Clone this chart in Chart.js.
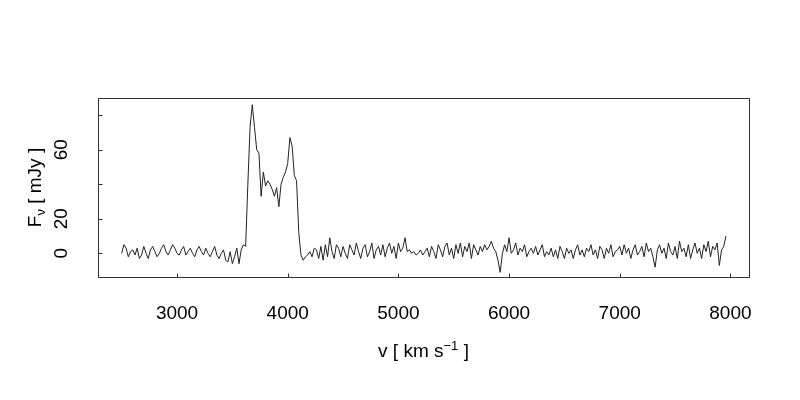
<!DOCTYPE html>
<html>
<head>
<meta charset="utf-8">
<script src="https://cdn.jsdelivr.net/npm/chart.js@4"></script>
<style>
  body { margin: 0; background: #fff; }
  #wrap { width: 800px; height: 400px; }
</style>
</head>
<body>
<div id="wrap"><canvas id="specChart" width="800" height="400"></canvas></div>
<script>
// channel grid of the spectrum (km/s)
var velStart = 2500;
var velStep = 20;

// flux density in mJy, one value per channel
var fluxBaseLow = [0, 5, 3, -2, 1, 2, -1, 3, -3, -1, 4, 0, -3, 2, 4, 1, -2, 0, 3, 5,
    1, -1, 2, 5, 3, 0, -1, 2, 4, -1, 1, 3, 0, -2, 2, 4, 1, -1, 3, 0,
    -2, 1, 4, -1, -3, 0, 2, -4, -5, 1, -6, -2, 3, -6, 2, 5];               // 2500 - 3600
var fluxLine = [4, 40, 73, 86, 73, 60, 58, 33, 47, 39, 42, 40, 37, 33, 38, 27, 40, 44,
    47, 52, 67, 62, 45, 42, 12, -1, -4, -2];                                // 3620 - 4160
var fluxBaseMid = [-1, 1, -2, 3, 2, -3, 4, -4, 5, -2, 9, 1, -3, 5, 3, -2, 4, 0, -3, 5,
    2, -1, 6, 1, -3, 3, 5, -2, 1, 6, -3, 2, 4, -1, 5, -2, 3, 6, 0, 4,
    -3, 6, 1, 3, 9, 1, 2, 0, 1, -1, 0, 2, -1, 1, 3, -2, 4, 1, -3, 5,
    2, -2, 4, 6, -1, 3, -3, 5, 0, 6, -2, 4, 1, 6, -3, 5, 2, -1, 4, 1,
    5, 2, 4, 7, 3, 1, -4, -11, 0, 5, 1];                                    // 4180 - 5980
var fluxBaseHigh = [9, 0, 2, 6, -1, 3, 1, 5, -2, 1, 3, 0, 4, -1, 2, 5, -2, 1, -1, 3,
    -2, 2, -3, 4, 1, -3, 3, 0, 2, -3, 2, 5, -1, 2, -2, 3, 1, 5, -1, 2,
    -3, 4, 2, -3, 3, 0, 5, -2, 1, 2, 4, -1, 5, 0, 3, -3, 2, 5, -1, 1,
    4, -2, 6, 1, 3, -2, -8, 2, 5, 0, 3, -3, 6, 1, -1, 4, -3, 7, 1, 3,
    -2, 5, -3, 2, 6, 0, 3, -3, 5, 1, 7, -2, 4, 2, 6, -7, 2, 4, 10];        // 6000 - 7960

var xTicks = [3000, 4000, 5000, 6000, 7000, 8000];
var yTicks = [0, 20, 40, 60, 80];
var yTickLabels = ['0', '20', '', '60', ''];

var fontFamily = '"Liberation Sans", Arial, Helvetica, sans-serif';

var flux = fluxBaseLow.concat(fluxLine, fluxBaseMid, fluxBaseHigh);
var points = flux.map(function (f, i) {
    return { x: velStart + i * velStep, y: f };
});

// R style box, inward ticks and axis titles with sub/superscripts
var rStyle = {
    id: 'rStyle',
    afterDraw: function (chart) {
        var ctx = chart.ctx;
        var a = chart.chartArea;
        var xs = chart.scales.x, ys = chart.scales.y;
        ctx.save();
        ctx.strokeStyle = '#333';
        ctx.lineWidth = 1;
        var L = Math.round(a.left) + 0.5, R = Math.round(a.right) + 0.5;
        var T = Math.round(a.top) + 0.5, B = Math.round(a.bottom) + 0.5;
        ctx.strokeRect(L, T, R - L, B - T);
        ctx.beginPath();
        xTicks.forEach(function (v) {
            var px = Math.round(xs.getPixelForValue(v)) + 0.5;
            ctx.moveTo(px, B);
            ctx.lineTo(px, B - 4);
        });
        yTicks.forEach(function (v) {
            var py = Math.round(ys.getPixelForValue(v)) + 0.5;
            ctx.moveTo(L, py);
            ctx.lineTo(L + 4, py);
        });
        ctx.stroke();

        ctx.fillStyle = '#000';
        ctx.textBaseline = 'alphabetic';
        var big = '19px ' + fontFamily, small = '13px ' + fontFamily;

        // x title: v [ km s^-1 ]
        var parts = [
            { t: 'v [ km s', f: big, dy: 0 },
            { t: '\u22121', f: small, dy: -7 },
            { t: ' ]', f: big, dy: 0 }
        ];
        drawParts(ctx, parts, (a.left + a.right) / 2, 357);

        // y title: F_nu [ mJy ]
        ctx.translate(40.5, (a.top + a.bottom) / 2);
        ctx.rotate(-Math.PI / 2);
        parts = [
            { t: 'F', f: big, dy: 0 },
            { t: '\u03bd', f: small, dy: 4 },
            { t: ' [ mJy ]', f: big, dy: 0 }
        ];
        drawParts(ctx, parts, 0, 0);
        ctx.restore();
    }
};

function drawParts(ctx, parts, cx, base) {
    var w = 0;
    parts.forEach(function (p) { ctx.font = p.f; w += ctx.measureText(p.t).width; });
    var x = cx - w / 2;
    parts.forEach(function (p) {
        ctx.font = p.f;
        ctx.fillText(p.t, x, base + p.dy);
        x += ctx.measureText(p.t).width;
    });
}

new Chart(document.getElementById('specChart'), {
    type: 'line',
    data: {
        datasets: [{
            label: 'spectrum',
            data: points,
            borderColor: '#222',
            borderWidth: 1,
            pointRadius: 0,
            tension: 0,
            fill: false
        }]
    },
    options: {
        responsive: false,
        animation: false,
        events: [],
        layout: { padding: { left: 0, right: 51, top: 98, bottom: 0 } },
        plugins: {
            legend: { display: false },
            tooltip: { enabled: false }
        },
        scales: {
            x: {
                type: 'linear',
                min: 2286,
                max: 8168,
                afterBuildTicks: function (s) {
                    s.ticks = xTicks.map(function (v) { return { value: v }; });
                },
                afterFit: function (s) { s.height = 123; },
                grid: { display: false, drawTicks: false },
                border: { display: false },
                ticks: {
                    autoSkip: false,
                    maxRotation: 0,
                    padding: 25,
                    color: '#000',
                    font: { family: fontFamily, size: 19 },
                    callback: function (v) { return String(v); }
                }
            },
            y: {
                type: 'linear',
                min: -13.7,
                max: 89.9,
                afterBuildTicks: function (s) {
                    s.ticks = yTicks.map(function (v) { return { value: v }; });
                },
                afterFit: function (s) { s.width = 98; },
                grid: { display: false, drawTicks: false },
                border: { display: false },
                ticks: {
                    autoSkip: false,
                    minRotation: 90,
                    maxRotation: 90,
                    crossAlign: 'center',
                    padding: 26,
                    color: '#000',
                    font: { family: fontFamily, size: 19 },
                    callback: function (v) { return yTickLabels[yTicks.indexOf(v)]; }
                }
            }
        }
    },
    plugins: [rStyle]
});
</script>
</body>
</html>
